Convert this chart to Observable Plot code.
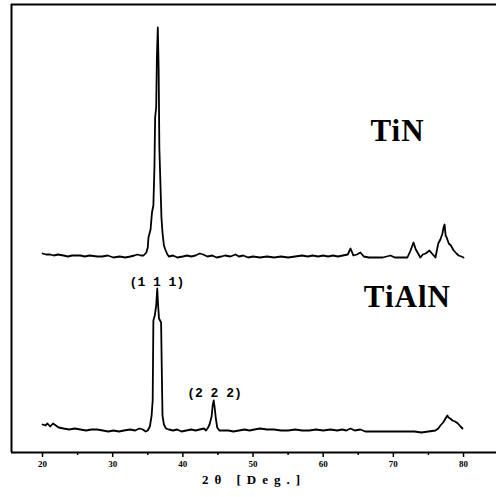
<!DOCTYPE html>
<html><head><meta charset="utf-8">
<script src="https://cdn.jsdelivr.net/npm/d3@7"></script>
<script src="https://cdn.jsdelivr.net/npm/@observablehq/plot@0.6"></script>
<style>body{margin:0;background:#fff}</style>
</head><body><div id="chart"></div>
<script>
// TiN pattern: 2θ (deg) and intensity above its baseline (a.u.)
const tinAngle = [20.0,20.5,21.1,21.6,22.2,23.0,23.6,24.2,25.4,26.0,26.7,27.8,28.5,29.3,30.1,31.0,31.8,32.5,33.1,33.5,34.0,34.4,34.8,35.0,35.1,35.4,35.6,35.8,35.95,36.05,36.2,36.3,36.43,36.55,36.65,36.8,36.95,37.1,37.3,37.5,37.8,38.0,38.6,39.2,40.0,40.6,41.2,41.8,42.4,42.9,43.5,44.2,44.8,45.5,46.0,46.8,47.5,48.0,48.6,49.3,50.0,51.0,52.0,53.0,54.0,55.0,56.0,57.0,57.8,58.5,59.3,60.0,60.7,61.4,62.1,62.8,63.5,63.9,64.3,64.8,65.3,65.8,66.5,67.5,68.5,69.6,70.2,71.0,72.0,72.45,72.87,73.2,73.45,73.85,74.2,74.6,75.15,75.5,76.0,76.4,76.7,77.0,77.15,77.3,77.45,77.6,77.9,78.2,78.6,79.0,79.3,79.7,80.0];
const tinIntensity = [4,3,3,2,3,2,1,2,2,1,2,1,1,2,0,1,0,1,2,3,2,2,5,10,20,28,45,52,90,140,150,200,230,190,110,75,40,25,12,8,3,1,2,0,1,2,1,2,4,3,1,2,0,1,2,1,3,1,2,0,1,0,1,0,1,0,1,2,1,2,1,2,1,2,1,2,3,9,2,3,5,1,0,0,0,2,0,0,0,7,15,8,5,0,3,4,7,4,0,14,18,24,30,33,22,20,14,12,7,4,2,1,0];
// TiAlN pattern
const tialnAngle = [20.0,20.4,20.7,21.1,21.5,21.9,22.3,23.0,23.8,24.6,25.4,26.2,27.0,27.8,28.6,29.4,30.1,30.9,31.6,32.5,33.2,33.8,34.3,34.7,35.0,35.3,35.55,35.7,35.8,36.0,36.2,36.35,36.45,36.6,36.9,37.0,37.1,37.3,37.6,38.0,38.6,39.2,39.8,40.5,41.2,41.8,42.4,43.0,43.3,43.6,43.8,44.1,44.25,44.4,44.55,44.7,44.9,45.2,45.8,46.5,47.2,48.0,48.8,49.5,50.2,51.0,52.0,53.0,54.0,55.0,56.0,57.0,58.0,59.0,60.0,61.0,62.0,62.7,63.3,63.9,64.5,65.3,66.0,67.0,68.0,69.0,70.0,71.0,72.0,73.0,74.0,75.0,76.0,76.4,76.7,77.1,77.43,77.7,77.86,78.1,78.43,78.8,79.2,79.57,79.85,80.0];
const tialnIntensity = [6,5,7,4,7,5,3,2,1,2,1,0,1,1,0,-1,0,-1,0,1,0,2,1,-1,0,4,15,30,110,115,125,142,128,112,108,60,15,6,2,1,0,1,-1,0,1,0,1,2,0,3,6,14,25,30,22,12,3,0,0,0,-1,0,1,0,1,2,1,1,0,0,1,0,0,1,0,1,0,1,0,2,0,1,-1,-1,-1,-1,-1,-1,-1,-1,-2,-1,0,2,5,8,12,15,13,12,10,9,7,4,2];

const samples = ["TiN", "TiAlN"];
const sampleOffset = [195, 22];          // vertical stacking offset (a.u.)
const labelAngle = [70.6, 72.0];
const labelLevel = [321, 155];

const peakNames = ["(1 1 1)", "(2 2 2)"];
const peakAngle = [36.3, 44.5];
const peakLevel = [171, 60];

const xTicks = [20, 30, 40, 50, 60, 70, 80];
const xMinorTicks = [25, 35, 45, 55, 65, 75];
const xDomain = [15.58, 84.70];
const yDomain = [0, 448];

const rows = [];
tinAngle.forEach((a, i) => rows.push({sample: "TiN", angle: a, level: tinIntensity[i] + sampleOffset[0]}));
tialnAngle.forEach((a, i) => rows.push({sample: "TiAlN", angle: a, level: tialnIntensity[i] + sampleOffset[1]}));
const sampleLabels = samples.map((s, i) => ({name: s, angle: labelAngle[i], level: labelLevel[i]}));
const peaks = peakNames.map((s, i) => ({name: s, angle: peakAngle[i], level: peakLevel[i]}));

const chart = Plot.plot({
  width: 496, height: 497,
  marginLeft: 11, marginRight: 0, marginTop: 4, marginBottom: 45,
  x: {domain: xDomain},
  y: {domain: yDomain, axis: null},
  style: {background: "white", color: "black"},
  marks: [
    Plot.axisX({ticks: xTicks, tickSize: 5, tickPadding: 3, fontSize: 9, fontWeight: "bold", fontFamily: "Liberation Serif", label: null, strokeWidth: 1.5}),
    Plot.axisX({ticks: xMinorTicks, tickSize: 3, tickFormat: () => "", label: null, strokeWidth: 1.5}),
    Plot.ruleY([yDomain[0]], {stroke: "black", strokeWidth: 2}),
    Plot.ruleY([yDomain[1]], {stroke: "black", strokeWidth: 2}),
    Plot.ruleX([xDomain[0]], {stroke: "black", strokeWidth: 2}),
    Plot.line(rows, {x: "angle", y: "level", z: "sample", stroke: "black", strokeWidth: 1.8}),
    Plot.text(sampleLabels, {x: "angle", y: "level", text: "name", fontSize: 31, fontWeight: "bold", fontFamily: "Liberation Serif", fill: "black", className: "samplelabel"}),
    Plot.text(peaks, {x: "angle", y: "level", text: "name", fontSize: 13, fontWeight: "bold", fontFamily: "Liberation Mono", fill: "black"}),
    Plot.text(["2θ [Deg.]"], {frameAnchor: "bottom", dy: 31, fontSize: 13, fontWeight: "bold", fontFamily: "Liberation Serif", fill: "black", className: "xlabel"})
  ]
});
document.getElementById("chart").appendChild(chart);
d3.select(chart).selectAll(".xlabel text").style("letter-spacing", "6px");
d3.select(chart).selectAll(".samplelabel text").style("letter-spacing", "1px");
</script>
</body></html>
